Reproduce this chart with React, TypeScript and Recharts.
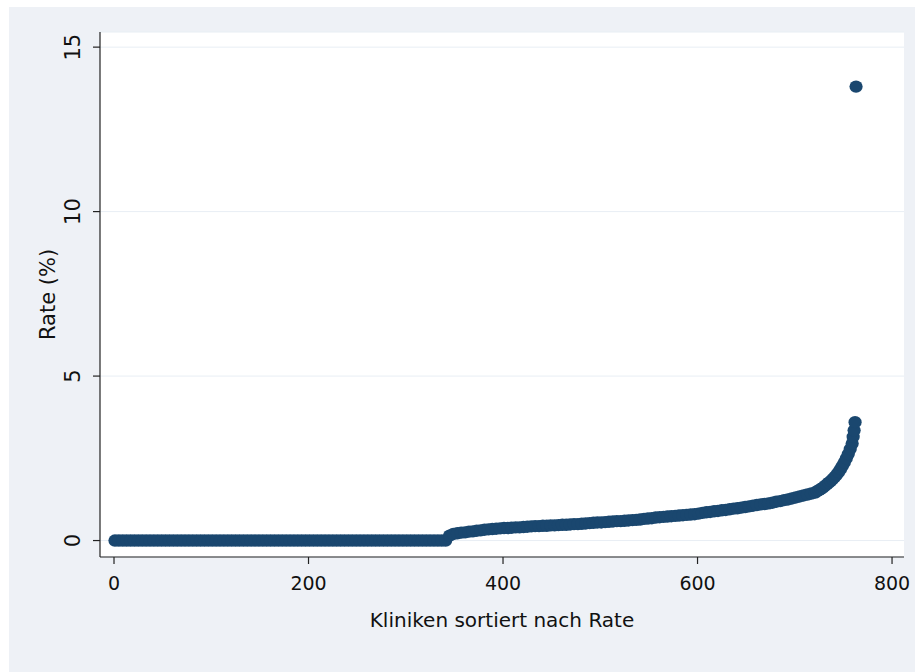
import React from "react";
import { CartesianGrid, Label, Scatter, ScatterChart, XAxis, YAxis } from "recharts";

// clinics with a rate of 0 (ranks 1..341)
const flatRanks = [
  1, 5, 9, 13, 17, 21, 25, 29, 33, 37, 41, 45, 49, 53, 57, 61, 65, 69, 73, 77,
  81, 85, 89, 93, 97, 101, 105, 109, 113, 117, 121, 125, 129, 133, 137, 141, 145, 149, 153, 157,
  161, 165, 169, 173, 177, 181, 185, 189, 193, 197, 201, 205, 209, 213, 217, 221, 225, 229, 233, 237,
  241, 245, 249, 253, 257, 261, 265, 269, 273, 277, 281, 285, 289, 293, 297, 301, 305, 309, 313, 317,
  321, 325, 329, 333, 337, 341,
];
const flatRates = [
  0, 0, 0, 0, 0, 0, 0, 0, 0, 0, 0, 0, 0, 0, 0, 0, 0, 0, 0, 0,
  0, 0, 0, 0, 0, 0, 0, 0, 0, 0, 0, 0, 0, 0, 0, 0, 0, 0, 0, 0,
  0, 0, 0, 0, 0, 0, 0, 0, 0, 0, 0, 0, 0, 0, 0, 0, 0, 0, 0, 0,
  0, 0, 0, 0, 0, 0, 0, 0, 0, 0, 0, 0, 0, 0, 0, 0, 0, 0, 0, 0,
  0, 0, 0, 0, 0, 0,
];

// slowly rising middle part
const riseRanks = [
  345, 349, 353, 357, 361, 365, 369, 373, 377, 381,
  385, 389, 393, 397, 401, 405, 409, 413, 417, 421,
  425, 429, 433, 437, 441, 445, 449, 453, 457, 461,
  465, 469, 473, 477, 481, 485, 489, 493, 497, 501,
  505, 509, 513, 517, 521, 525, 529, 533, 537, 541,
  545, 549, 553, 557, 561, 565, 569, 573, 577, 581,
  585, 589, 593, 597, 601, 605, 609, 613, 617, 621,
  625, 629, 633, 637, 641, 645, 649, 653, 657, 661,
  665, 669, 673, 677, 681, 685, 689, 693, 697, 701,
  705, 709, 713, 717, 721,
];
const riseRates = [
  0.15, 0.2, 0.22, 0.24, 0.25, 0.27, 0.28, 0.3, 0.31, 0.33,
  0.34, 0.35, 0.36, 0.37, 0.38, 0.38, 0.39, 0.4, 0.4, 0.41,
  0.42, 0.43, 0.44, 0.44, 0.45, 0.45, 0.46, 0.46, 0.47, 0.48,
  0.48, 0.49, 0.5, 0.5, 0.51, 0.52, 0.53, 0.54, 0.55, 0.55,
  0.56, 0.57, 0.58, 0.59, 0.59, 0.6, 0.61, 0.62, 0.63, 0.64,
  0.66, 0.67, 0.68, 0.7, 0.71, 0.72, 0.73, 0.74, 0.75, 0.76,
  0.77, 0.78, 0.79, 0.8, 0.82, 0.84, 0.86, 0.87, 0.89, 0.9,
  0.92, 0.93, 0.95, 0.97, 0.98, 1.0, 1.02, 1.04, 1.06, 1.08,
  1.1, 1.11, 1.13, 1.15, 1.18, 1.2, 1.23, 1.25, 1.28, 1.31,
  1.34, 1.37, 1.4, 1.43, 1.46,
];

// steep tail and the outlier
const tailRanks = [
  723, 725, 727, 729, 731, 733, 735, 737, 739, 741, 743, 745,
  747, 749, 751, 753, 755, 757, 759, 760, 761, 762, 763,
];
const tailRates = [
  1.5, 1.53, 1.57, 1.61, 1.66, 1.71, 1.76, 1.81, 1.87, 1.93, 2.0, 2.08,
  2.17, 2.27, 2.38, 2.5, 2.63, 2.78, 2.95, 3.15, 3.35, 3.6, 13.8,
];

const xTicks = [0, 200, 400, 600, 800];
const yTicks = [0, 5, 10, 15];

const NAVY = "#1a476f";
const FONT = "'DejaVu Sans', sans-serif";

const points = [
  ...flatRanks.map((r, i) => ({ rank: r, rate: flatRates[i] })),
  ...riseRanks.map((r, i) => ({ rank: r, rate: riseRates[i] })),
  ...tailRanks.map((r, i) => ({ rank: r, rate: tailRates[i] })),
];

function Marker(props: any) {
  const { cx, cy } = props;
  if (cx == null || cy == null) return null;
  return <ellipse cx={cx} cy={cy} rx={6.6} ry={6.2} fill={NAVY} />;
}

function YTick(props: any) {
  const { x, y, payload } = props;
  return (
    <text
      x={x}
      y={y}
      transform={`rotate(-90 ${x} ${y})`}
      textAnchor="middle"
      fontFamily={FONT}
      fontSize={21}
      fill="#111"
    >
      {payload.value}
    </text>
  );
}

export default function App() {
  return (
    <div
      style={{
        position: "absolute",
        left: 9,
        top: 7,
        width: 906,
        height: 665,
        background: "#eef1f6",
      }}
    >
      <ScatterChart
        width={906}
        height={665}
        margin={{ top: 25, right: 11, bottom: 0, left: 0 }}
      >
        <CartesianGrid
          horizontal
          vertical={false}
          fill="#ffffff"
          stroke="#e8eef4"
          strokeWidth={1}
        />
        <XAxis
          type="number"
          dataKey="rank"
          domain={[-14.4, 812.3]}
          ticks={xTicks}
          allowDataOverflow
          height={115}
          tickSize={7}
          tickMargin={13}
          axisLine={{ stroke: "#222", strokeWidth: 1.2 }}
          tickLine={{ stroke: "#222", strokeWidth: 1.2 }}
          tick={{ fill: "#111", fontSize: 19, fontFamily: FONT }}
        >
          <Label
            value="Kliniken sortiert nach Rate"
            position="insideBottom"
            offset={45}
            style={{ fill: "#111", fontSize: 20, fontFamily: FONT }}
          />
        </XAxis>
        <YAxis
          type="number"
          dataKey="rate"
          domain={[-0.5, 15.46]}
          ticks={yTicks}
          allowDataOverflow
          width={91}
          tickSize={7}
          tickMargin={13}
          axisLine={{ stroke: "#222", strokeWidth: 1.2 }}
          tickLine={{ stroke: "#222", strokeWidth: 1.2 }}
          tick={<YTick />}
        >
          <Label
            content={() => (
              <text
                x={46}
                y={287.5}
                transform="rotate(-90 46 287.5)"
                textAnchor="middle"
                fontFamily={FONT}
                fontSize={21}
                fill="#111"
              >
                Rate (%)
              </text>
            )}
          />
        </YAxis>
        <Scatter data={points} shape={<Marker />} isAnimationActive={false} />
      </ScatterChart>
    </div>
  );
}
